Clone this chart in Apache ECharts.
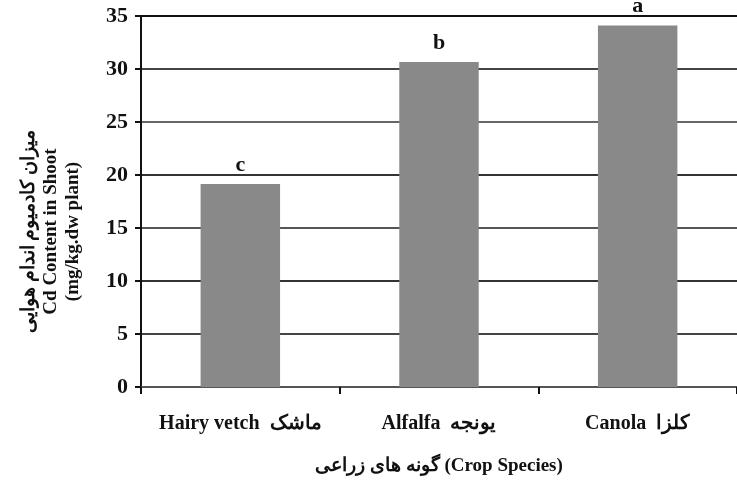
<!DOCTYPE html>
<html>
<head>
<meta charset="utf-8">
<script src="https://cdn.jsdelivr.net/npm/echarts@6/dist/echarts.min.js"></script>
<style>
  html, body { margin: 0; padding: 0; background: #fff; }
  #main { width: 737px; height: 489px; }
</style>
</head>
<body>
<div id="main"></div>
<script>
// crop species (English + Persian name)
const categories = ['Hairy vetch  ماشک', 'Alfalfa  یونجه', 'Canola  کلزا']
// Cd content in shoot (mg/kg dw plant)
const cdValues = [19.15, 30.65, 34.1]
// significance letters
const letters = ['c', 'b', 'a']

const serif = '"Liberation Serif", "Times New Roman", serif'

const chart = echarts.init(document.getElementById('main'))

chart.setOption({
  animation: false,
  grid: {
    left: 141,
    top: 16,
    width: 604,
    bottom: 102
  },
  xAxis: {
    type: 'category',
    data: categories,
    // rich tokens keep the Persian part on the left like the original
    name: '{fa|گونه های زراعی} (Crop Species)',
    nameLocation: 'middle',
    nameGap: 70,
    nameTextStyle: {
      fontFamily: serif,
      fontWeight: 'bold',
      fontSize: 19,
      color: '#111',
      rich: {
        fa: {
          fontFamily: serif,
          fontWeight: 'bold',
          fontSize: 19,
          color: '#111'
        }
      }
    },
    axisLine: {
      lineStyle: { color: '#555', width: 2 }
    },
    axisTick: {
      show: true,
      interval: 0,
      length: 7,
      lineStyle: { color: '#111', width: 2 }
    },
    axisLabel: {
      interval: 0,
      margin: 27,
      fontFamily: serif,
      fontWeight: 'bold',
      fontSize: 20,
      color: '#111'
    }
  },
  yAxis: {
    type: 'value',
    min: 0,
    max: 35,
    interval: 5,
    name: 'میزان کادمیوم اندام هوایی\nCd Content in Shoot\n(mg/kg.dw plant)',
    nameLocation: 'middle',
    nameGap: 57,
    nameRotate: 90,
    nameTextStyle: {
      fontFamily: serif,
      fontWeight: 'bold',
      fontSize: 19,
      lineHeight: 22,
      color: '#111',
      padding: [0, 60, 0, 0]
    },
    axisLine: {
      show: true,
      lineStyle: { color: '#111', width: 2 }
    },
    axisTick: {
      show: true,
      length: 6,
      lineStyle: { color: '#111', width: 2 }
    },
    axisLabel: {
      margin: 13,
      fontFamily: serif,
      fontWeight: 'bold',
      fontSize: 22,
      color: '#111'
    },
    splitLine: {
      show: true,
      lineStyle: {
        color: ['#555', '#444', '#333', '#555', '#333', '#666', '#444', '#111'],
        width: 2
      }
    }
  },
  series: [{
    type: 'bar',
    data: cdValues,
    barWidth: '40%',
    itemStyle: { color: '#898989' },
    label: {
      show: true,
      position: 'top',
      distance: 8,
      fontFamily: serif,
      fontWeight: 'bold',
      fontSize: 22,
      color: '#111',
      formatter: p => letters[p.dataIndex]
    }
  }]
})
</script>
</body>
</html>
